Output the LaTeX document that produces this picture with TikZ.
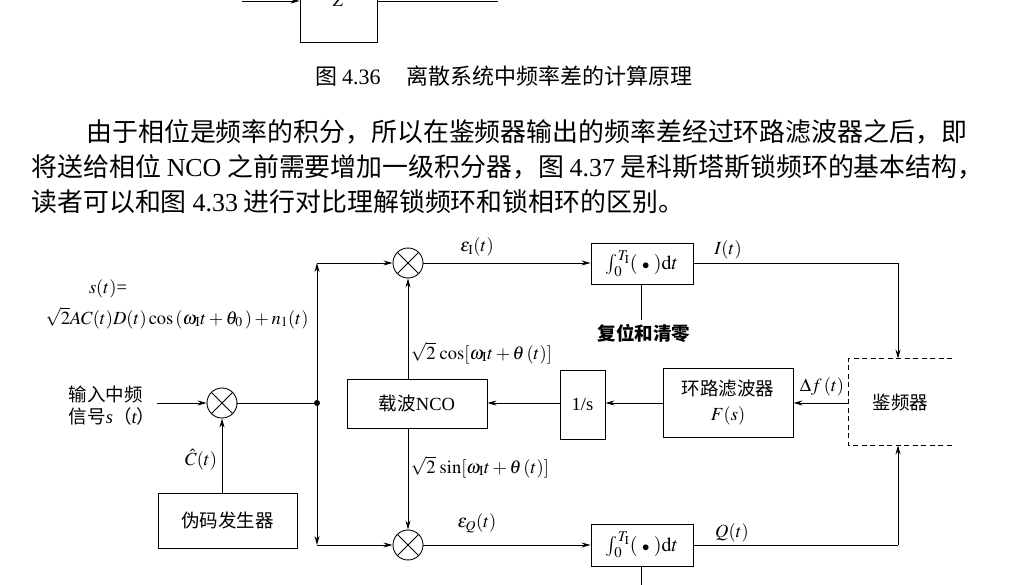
\documentclass[tikz,border=0pt]{standalone}
\usepackage{mathptmx}
\usepackage{fontspec}
\setmainfont{Liberation Serif}
\newfontfamily\cjk{Noto Sans CJK SC}
\usetikzlibrary{positioning,arrows.meta}
\newcommand\bodysize{\fontsize{25.9}{32}\selectfont}
\newcommand\capsize{\fontsize{22}{26}\selectfont}
\newcommand\dgmsize{\fontsize{18.5}{22}\selectfont}
\newcommand\intlab{$\int_0^{T_{\mathrm I}}(\;{\scriptstyle\bullet}\;)\mathrm{d}t$}
\tikzset{every picture/.style={line width=0.9pt}}
\tikzset{
  fblk/.style ={rectangle, draw=black, inner sep=2pt, font=\dgmsize\cjk},
  mixr/.style ={circle, draw=black, minimum size=30pt, inner sep=0pt,
                path picture={\draw (path picture bounding box.south west) -- (path picture bounding box.north east)
                                    (path picture bounding box.north west) -- (path picture bounding box.south east);}},
  sig/.style  ={->, >={Stealth[length=9pt,width=5pt]}},
  lbl/.style  ={font=\dgmsize, inner sep=0.5pt},
  txt/.style  ={font=\bodysize\cjk, inner sep=0pt, anchor=base west},
}

\begin{document}
\begin{tikzpicture}[x=1pt,y=-1pt]
    \useasboundingbox (0,0) rectangle (1010,585);
    % end of the previous figure
    \node[fblk, minimum width=77pt, minimum height=82pt, font=\dgmsize] (zbox) at (338.5,1) {$Z$};
    \coordinate (zin) at (242,1);
    \coordinate (zout) at (498,1);
    \draw[sig] (zin) -- (zbox);
    \draw (zbox) -- (zout);
    \node[font=\capsize\cjk, inner sep=0pt, anchor=base] (cap) at (504,85)
        {图 {\rmfamily 4.36}\hspace{26pt}离散系统中频率差的计算原理};
    % body text
    \node[txt] (par1) at (86,142) {由于相位是频率的积分，所以在鉴频器输出的频率差经过环路滤波器之后，即};
    \node[txt] (par2) at (31,177) {将送给相位 {\rmfamily NCO} 之前需要增加一级积分器，图 {\rmfamily 4.37} 是科斯塔斯锁频环的基本结构，};
    \node[txt] (par3) at (31,212) {读者可以和图 {\rmfamily 4.33} 进行对比理解锁频环和锁相环的区别。};
    % costas loop
    \node[mixr] (mix0) at (222,403) {};
    \node[mixr] (mixI) at (408,263) {};
    \node[mixr] (mixQ) at (408,545) {};
    \node[circle, fill=black, inner sep=0pt, minimum size=6pt] (split) at (317,403) {};
    \coordinate (cI) at (317,263);
    \coordinate (cQ) at (317,545);
    \coordinate (sin) at (157,403);
    \node[fblk, minimum width=139pt, minimum height=55pt] (pn) at (227.5,520.5) {伪码发生器};
    \node[fblk, minimum width=140pt, minimum height=49pt] (nco) at (417,403.5) {载波{\rmfamily NCO}};
    \node[fblk, minimum width=45pt, minimum height=69pt, font=\dgmsize] (intg) at (582.5,404.5) {1/s};
    \node[fblk, minimum width=130pt, minimum height=69pt, align=center] (lf) at (728,402.5)
        {环路滤波器\\[3pt]{\rmfamily $F(s)$}};
    \node[fblk, minimum width=102pt, minimum height=41pt, font=\fontsize{20}{24}\selectfont] (intI) at (642,263.5) {\intlab};
    \node[fblk, minimum width=102pt, minimum height=42pt, font=\fontsize{20}{24}\selectfont] (intQ) at (642,545) {\intlab};
    \node[minimum width=103pt, minimum height=86pt, inner sep=0pt, font=\dgmsize\cjk] (disc) at (900.5,402) {鉴频器};
    \draw[dashed, dash pattern=on 5pt off 3.5pt] (disc.north east) -- (disc.north west)
        -- (disc.south west) -- (disc.south east);
    \coordinate (rst) at (641,320);
    \coordinate (qdn) at (641,600);
    \coordinate (ci) at (898,263);
    \coordinate (cq) at (898,545);
    % connectors
    \draw[sig] (sin) -- (mix0);
    \draw[sig] (pn.north -| mix0) -- (mix0);
    \draw (mix0) -- (split);
    \draw[sig] (split) -- (cI);
    \draw[sig] (cI) -- (mixI);
    \draw[sig] (split) -- (cQ);
    \draw[sig] (cQ) -- (mixQ);
    \draw[sig] (mixI) -- (mixI -| intI.west);
    \draw[sig] (mixQ) -- (intQ.west);
    \draw (intI.south -| rst) -- (rst);
    \draw (intQ.south -| qdn) -- (qdn);
    \draw (intI.east |- ci) -- (ci);
    \draw[sig] (ci) -- (ci |- disc.north);
    \draw (intQ.east) -- (cq);
    \draw[sig] (cq) -- (cq |- disc.south);
    \draw[sig] (disc.west |- 0,403) -- (lf.east |- 0,403);
    \draw[sig] (lf.west |- 0,403) -- (intg.east |- 0,403);
    \draw[sig] (intg.west |- 0,403) -- (nco.east |- 0,403);
    \draw[sig] (nco.north -| mixI) -- (mixI);
    \draw[sig] (nco.south -| mixQ) -- (mixQ);
    % labels
    \node[lbl] (seq1) at (108,289) {$s(t)$=};
    \node[lbl] (seq2) at (177,318) {$\sqrt{2}AC(t)D(t)\cos\,(\omega_{\mathrm I}t+\theta_0\,)+n_1(t)$};
    \node[lbl, font=\dgmsize\cjk, align=left, anchor=west] (inlab) at (68,406)
        {输入中频\\信号{\rmfamily\itshape s}（{\rmfamily\itshape t}）};
    \node[lbl] (chat) at (201,460) {$\hat{C}(t)$};
    \node[lbl] (epsI) at (477,247) {$\varepsilon_{\mathrm I}(t)$};
    \node[lbl] (epsQ) at (477,523) {$\varepsilon_Q(t)$};
    \node[lbl] (ilab) at (728,250) {$I(t)$};
    \node[lbl] (qlab) at (732,533) {$Q(t)$};
    \node[lbl] (dflab) at (822,387) {$\Delta f\,(t)$};
    \node[lbl, anchor=west] (coslab) at (410,353) {$\sqrt{2}\,\cos[\omega_{\mathrm I}t+\theta\,(t)]$};
    \node[lbl, anchor=west] (sinlab) at (410,467) {$\sqrt{2}\,\sin[\omega_{\mathrm I}t+\theta\,(t)]$};
    \node[font=\dgmsize\cjk\bfseries, inner sep=1pt] (rstlab) at (644,333) {复位和清零};
\end{tikzpicture}
\end{document}
